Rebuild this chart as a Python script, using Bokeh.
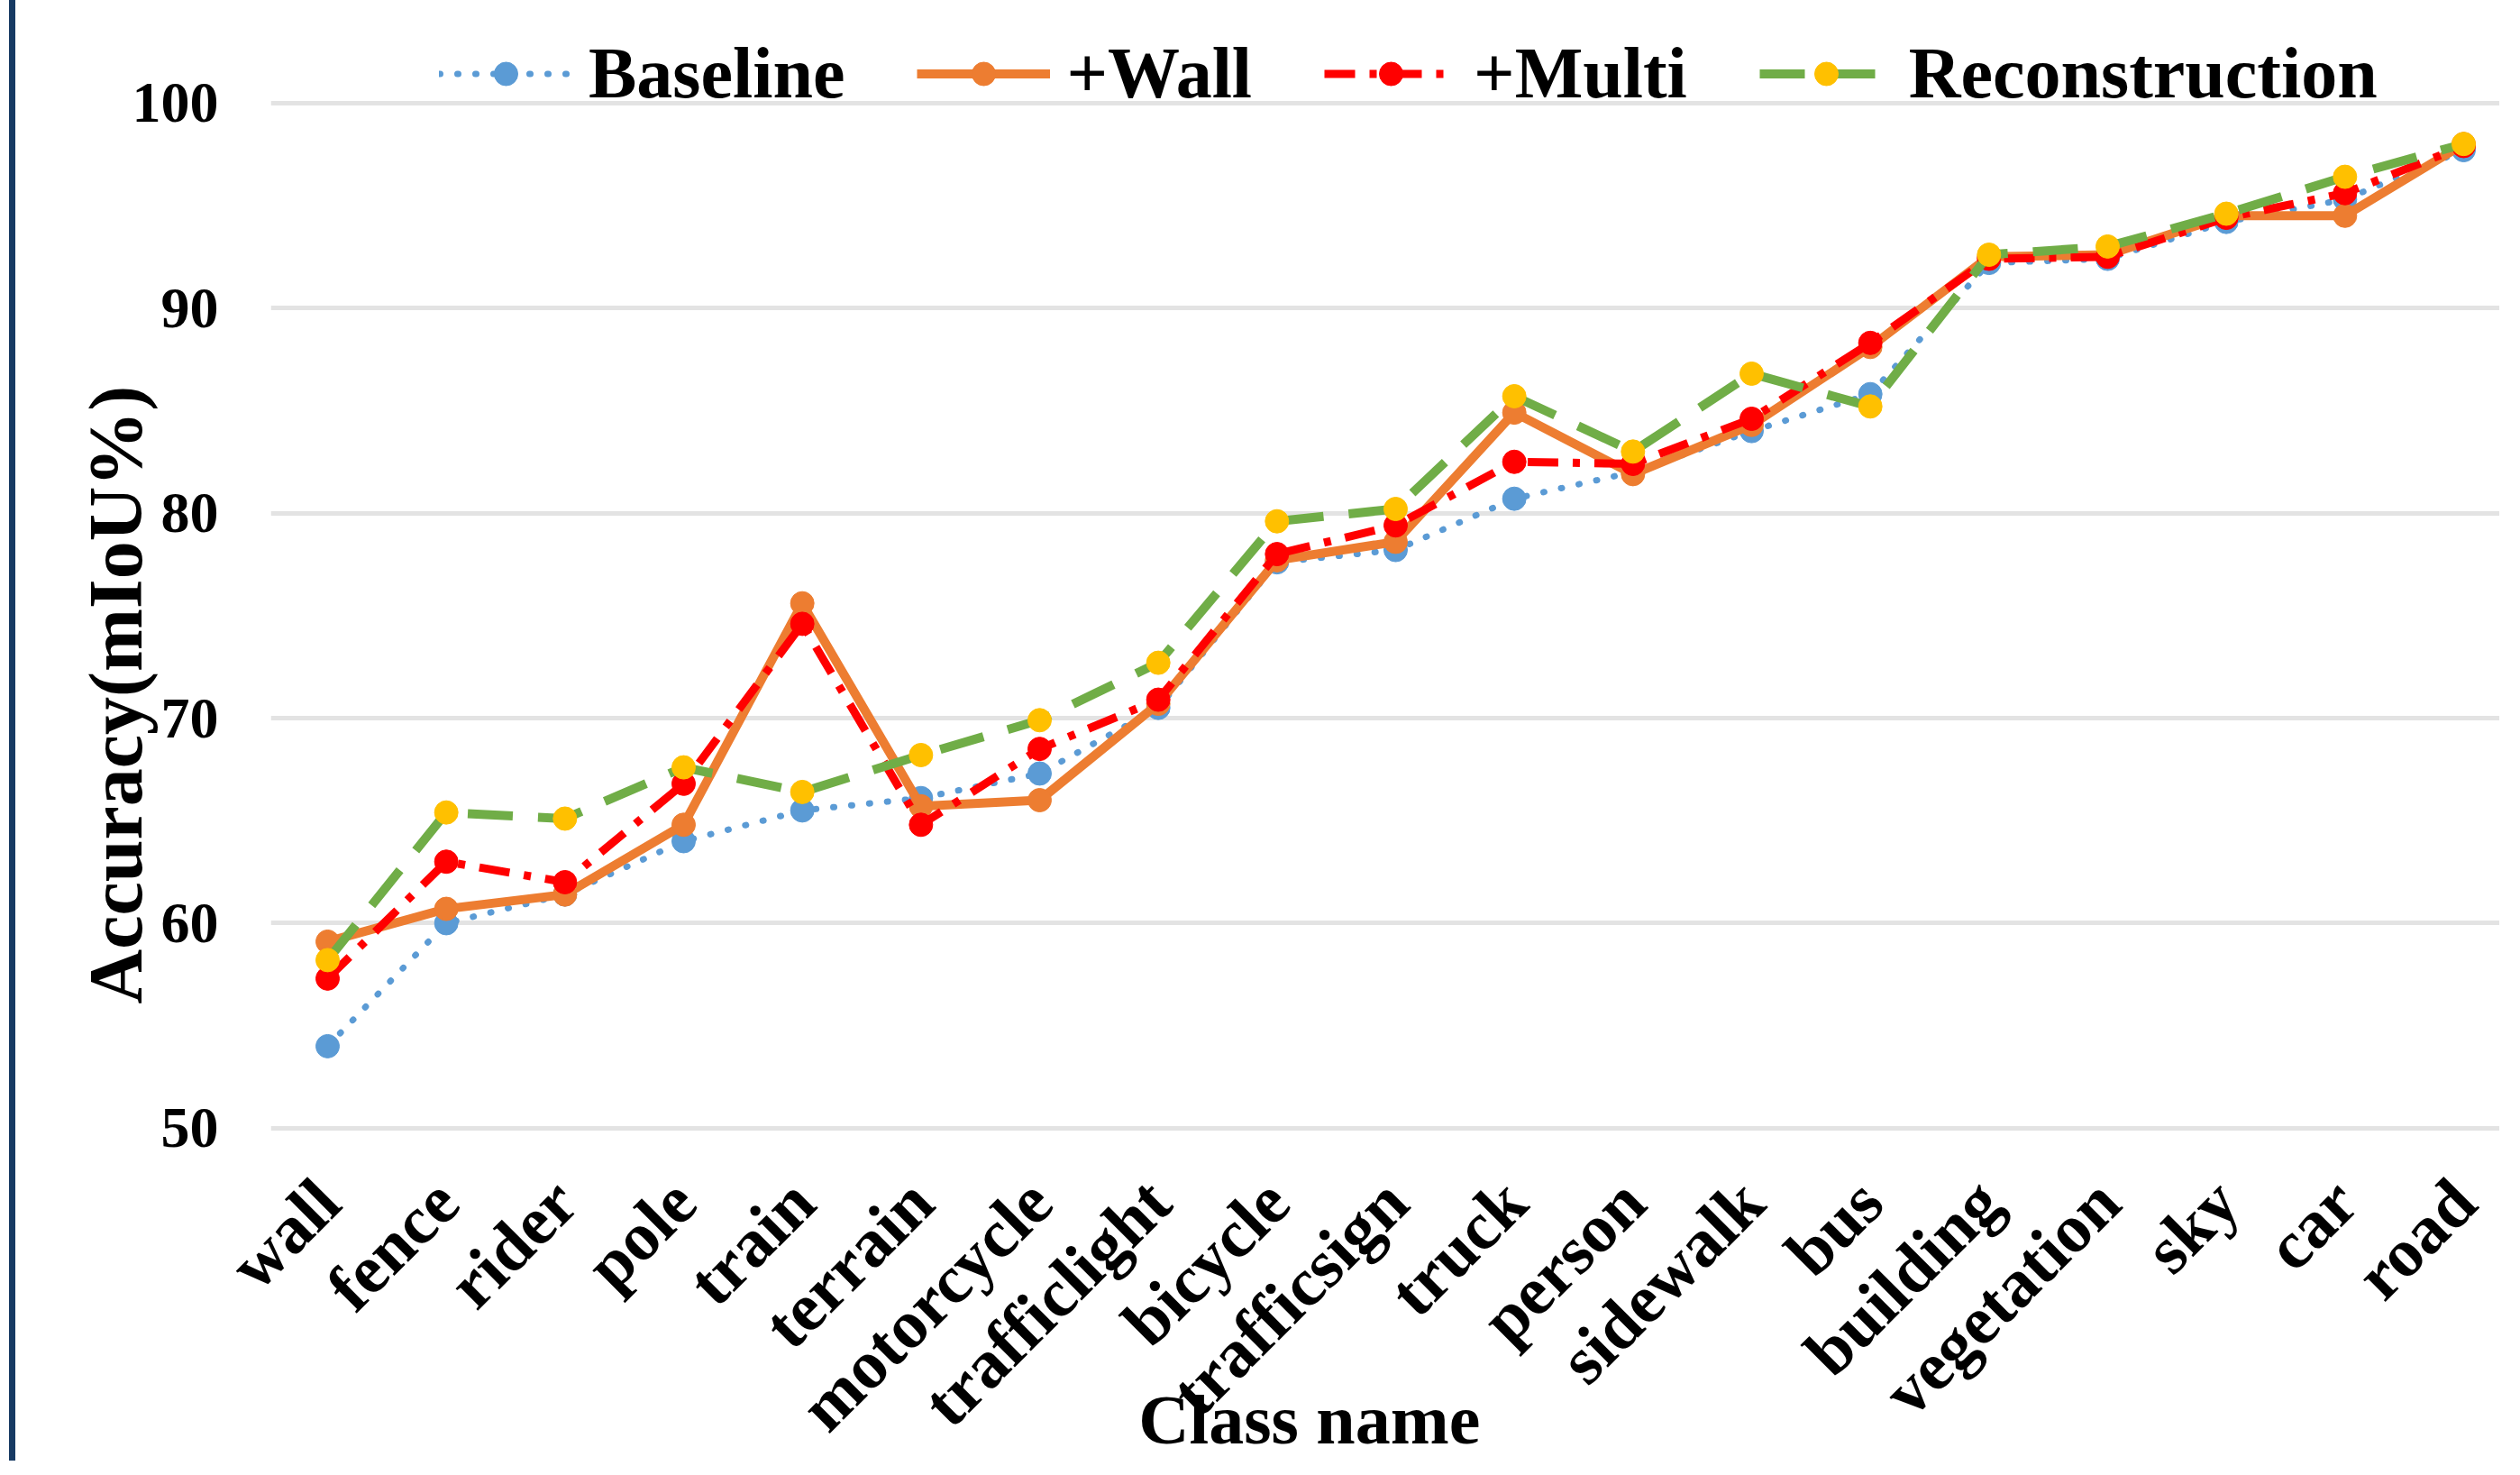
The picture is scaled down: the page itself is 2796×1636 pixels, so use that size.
import math
from bokeh.plotting import figure
from bokeh.models import Range1d, FixedTicker, Legend, LegendItem, Title
from bokeh.embed import file_html
from bokeh.resources import INLINE

categories = ["wall", "fence", "rider", "pole", "train", "terrain", "motorcycle",
              "trafficlight", "bicycle", "trafficsign", "truck", "person", "sidewalk",
              "bus", "building", "vegetation", "sky", "car", "road"]

baseline = [54.0, 60.0, 61.4, 64.0, 65.5, 66.1, 67.3, 70.5, 77.6, 78.2, 80.7, 82.0,
            84.0, 85.8, 92.2, 92.4, 94.2, 95.3, 97.7]
wall = [59.1, 60.7, 61.4, 64.8, 75.6, 65.7, 66.0, 70.7, 77.7, 78.6, 84.9, 81.9,
        84.3, 88.1, 92.5, 92.6, 94.5, 94.5, 98.0]
multi = [57.3, 63.0, 62.0, 66.8, 74.6, 64.8, 68.5, 70.9, 78.0, 79.4, 82.5, 82.4,
         84.6, 88.3, 92.4, 92.5, 94.4, 95.6, 97.9]
recon = [58.2, 65.4, 65.1, 67.6, 66.4, 68.2, 69.9, 72.7, 79.6, 80.2, 85.7, 83.0,
         86.8, 85.2, 92.6, 93.0, 94.6, 96.4, 98.0]

series_names = ["Baseline", "+Wall", "+Multi", "Reconstruction"]
y_ticks = [50, 60, 70, 80, 90, 100]
x_title = "Class name"
y_title = "Accuracy(mIoU%)"

FONT = "Liberation Serif"

x = list(range(len(categories)))

p = figure(width=2763, height=1620,
           x_range=Range1d(-0.4785, 18.357), y_range=Range1d(49.82, 105.0),
           min_border_left=283, min_border_right=0, min_border_top=0,
           min_border_bottom=340, output_backend="svg", toolbar_location=None)
p.styles = {"margin-left": "10px", "border-left": "7px solid #173a63"}
p.outline_line_color = None
p.background_fill_color = "white"
p.border_fill_color = "white"

p.xgrid.grid_line_color = None
p.ygrid.grid_line_color = "#e3e3e3"
p.ygrid.grid_line_width = 5

p.xaxis.ticker = FixedTicker(ticks=x)
p.xaxis.major_label_overrides = {i: c for i, c in enumerate(categories)}
p.xaxis.major_label_orientation = math.pi / 4
p.xaxis.major_label_standoff = 65
p.yaxis.ticker = FixedTicker(ticks=y_ticks)
p.yaxis.major_label_standoff = 58
for ax in (p.xaxis, p.yaxis):
    ax.axis_line_color = None
    ax.major_tick_line_color = None
    ax.minor_tick_line_color = None
    ax.major_tick_out = 0
    ax.major_tick_in = 0
    ax.major_label_text_font = FONT
    ax.major_label_text_font_style = "bold"
    ax.major_label_text_color = "black"
p.xaxis.major_label_text_font_size = "76px"
p.yaxis.major_label_text_font_size = "64px"

# x title: trailing no-break spaces shift the centred text to the reference spot
p.xaxis.axis_label = x_title + "\u00a0" * 9
p.xaxis.axis_label_standoff = -105
p.xaxis.axis_label_text_line_height = 1.0
p.xaxis.axis_label_text_font = FONT
p.xaxis.axis_label_text_font_size = "78px"
p.xaxis.axis_label_text_font_style = "bold"
p.xaxis.axis_label_text_color = "black"

p.add_layout(Title(text=y_title, align="left", offset=142, standoff=-62,
                   text_font=FONT, text_font_size="84px", text_font_style="bold",
                   text_color="black"), "left")

styles = [
    dict(color="#5B9BD5", mcolor="#5B9BD5", width=7, dash="1 19", cap="round"),
    dict(color="#ED7D31", mcolor="#ED7D31", width=10, dash="solid", cap="butt"),
    dict(color="#FF0000", mcolor="#FF0000", width=9, dash="34 16 8 16", cap="butt"),
    dict(color="#70AD47", mcolor="#FFC000", width=10, dash="50 28", cap="butt"),
]

items = []
for name, vals, st in zip(series_names, [baseline, wall, multi, recon], styles):
    rl = p.line(x, vals, line_color=st["color"], line_width=st["width"],
                line_dash=st["dash"], line_cap=st["cap"], line_join="round")
    rs = p.scatter(x, vals, marker="circle", size=26, fill_color=st["mcolor"],
                   line_color=st["mcolor"], line_width=1)
    items.append(LegendItem(label=name, renderers=[rl, rs]))

legend = Legend(items=items, orientation="horizontal", location=(187, 1128),
                label_text_font=FONT, label_text_font_size="80px",
                label_text_font_style="bold", label_text_color="black",
                glyph_width=148, glyph_height=65, label_standoff=18, spacing=80,
                padding=0, margin=0, border_line_color=None,
                background_fill_alpha=0)
p.add_layout(legend, "center")

open("out.html", "w").write(file_html(p, INLINE))
